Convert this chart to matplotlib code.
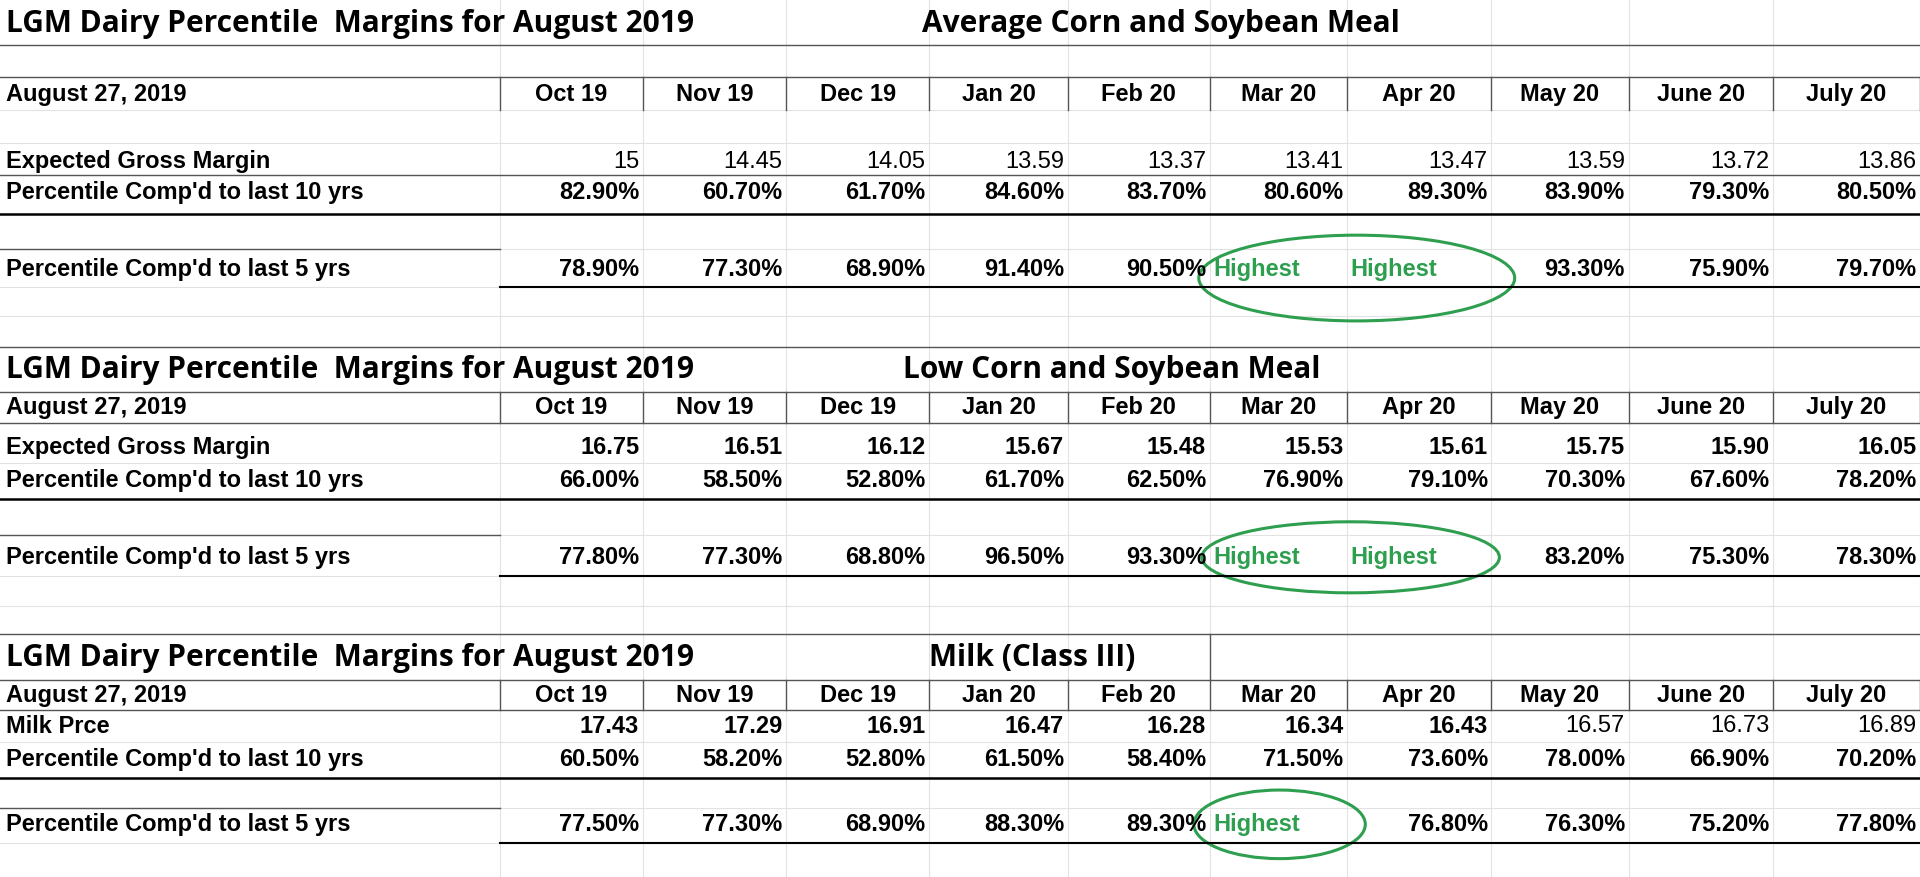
import matplotlib.pyplot as plt
from matplotlib.patches import Ellipse

months = ["Oct 19", "Nov 19", "Dec 19", "Jan 20", "Feb 20", "Mar 20", "Apr 20", "May 20", "June 20", "July 20"]
date_label = "August 27, 2019"
title = "LGM Dairy Percentile  Margins for August 2019"
subtitles = ["Average Corn and Soybean Meal", "Low Corn and Soybean Meal", "Milk (Class III)"]

avg_margin = ["15", "14.45", "14.05", "13.59", "13.37", "13.41", "13.47", "13.59", "13.72", "13.86"]
avg_pct10 = ["82.90%", "60.70%", "61.70%", "84.60%", "83.70%", "80.60%", "89.30%", "83.90%", "79.30%", "80.50%"]
avg_pct5 = ["78.90%", "77.30%", "68.90%", "91.40%", "90.50%", "Highest", "Highest", "93.30%", "75.90%", "79.70%"]

low_margin = ["16.75", "16.51", "16.12", "15.67", "15.48", "15.53", "15.61", "15.75", "15.90", "16.05"]
low_pct10 = ["66.00%", "58.50%", "52.80%", "61.70%", "62.50%", "76.90%", "79.10%", "70.30%", "67.60%", "78.20%"]
low_pct5 = ["77.80%", "77.30%", "68.80%", "96.50%", "93.30%", "Highest", "Highest", "83.20%", "75.30%", "78.30%"]

milk_price = ["17.43", "17.29", "16.91", "16.47", "16.28", "16.34", "16.43", "16.57", "16.73", "16.89"]
milk_pct10 = ["60.50%", "58.20%", "52.80%", "61.50%", "58.40%", "71.50%", "73.60%", "78.00%", "66.90%", "70.20%"]
milk_pct5 = ["77.50%", "77.30%", "68.90%", "88.30%", "89.30%", "Highest", "76.80%", "76.30%", "75.20%", "77.80%"]

# column edges in (scaled) sheet coordinates
edges = [0, 408, 525, 642, 759, 872, 988, 1100, 1218, 1330, 1448, 1568]
W, H = 1568, 716
GREEN = "#2e9e4f"
ARIAL = "Liberation Sans"
FS = 17
TFS = 21.5

fig = plt.figure(figsize=(19.2, 8.77), dpi=100)
ax = fig.add_axes([0, 0, 1, 1])
ax.set_xlim(0, W)
ax.set_ylim(H, 0)
ax.axis("off")

# faint spreadsheet grid
for x in edges[1:-1] + [1568]:
    ax.plot([x, x], [0, H], color="#e2e2e2", lw=0.8, zorder=0)
for y in [37, 63, 90, 117, 143, 175, 203, 234, 258, 283, 320, 345, 378, 407, 437, 470, 495, 518, 555, 580, 606, 635, 660, 688]:
    ax.plot([0, W], [y, y], color="#e2e2e2", lw=0.8, zorder=0)


def hline(y, x0=0, x1=W, lw=1.0, color="#555555"):
    ax.plot([x0, x1], [y, y], color=color, lw=lw, zorder=2)


def row(y, label, values, bold=True):
    ax.text(5, y, label, fontsize=FS, fontweight="bold", family=ARIAL, va="center", ha="left")
    for i, v in enumerate(values):
        if v == "Highest":
            ax.text(edges[i + 1] + 3, y, v, fontsize=FS, fontweight="bold",
                    family=ARIAL, va="center", ha="left", color=GREEN)
            continue
        b = bold[i] if isinstance(bold, list) else bold
        ax.text(edges[i + 2] - 3, y, v, fontsize=FS, fontweight="bold" if b else "normal",
                family=ARIAL, va="center", ha="right")


def header(y, y0, y1):
    ax.text(5, y, date_label, fontsize=FS, fontweight="bold", family=ARIAL, va="center")
    for i, m in enumerate(months):
        ax.text((edges[i + 1] + edges[i + 2]) / 2, y, m, fontsize=FS, fontweight="bold",
                family=ARIAL, va="center", ha="center")
    for x in edges[1:]:
        ax.plot([x, x], [y0, y1], color="#555555", lw=1.0, zorder=2)


def titles(y, sub, subx):
    ax.text(5, y, title, fontsize=TFS, fontweight="bold", family="Open Sans", va="center")
    ax.text(subx, y, sub, fontsize=TFS, fontweight="bold", family="Open Sans", va="center", ha="center")


# Section 1
titles(20, subtitles[0], 948)
hline(37)
hline(63)
header(77, 63, 90)
row(132, "Expected Gross Margin", avg_margin, bold=False)
hline(143)
row(157, "Percentile Comp'd to last 10 yrs", avg_pct10)
hline(175, lw=1.8, color="black")
hline(203, 0, 408)
row(220, "Percentile Comp'd to last 5 yrs", avg_pct5)
hline(234, 408, W, lw=1.5, color="black")
ax.add_patch(Ellipse((1108, 227), 258, 70, fill=False, ec=GREEN, lw=2.2))

# Section 2
hline(283)
titles(302, subtitles[1], 908)
hline(320)
header(333, 320, 345)
hline(345)
row(365, "Expected Gross Margin", low_margin)
row(392, "Percentile Comp'd to last 10 yrs", low_pct10)
hline(407, lw=1.8, color="black")
hline(437, 0, 408)
row(455, "Percentile Comp'd to last 5 yrs", low_pct5)
hline(470, 408, W, lw=1.5, color="black")
ax.add_patch(Ellipse((1103, 455), 243, 58, fill=False, ec=GREEN, lw=2.2))

# Section 3
hline(518)
titles(537, subtitles[2], 843)
ax.plot([988, 988], [518, 555], color="#555555", lw=1.0)
hline(555)
header(568, 555, 580)
hline(580)
row(593, "Milk Prce", milk_price, bold=[True] * 7 + [False] * 3)
row(620, "Percentile Comp'd to last 10 yrs", milk_pct10)
hline(635, lw=1.8, color="black")
hline(660, 0, 408)
row(673, "Percentile Comp'd to last 5 yrs", milk_pct5)
hline(688, 408, W, lw=1.5, color="black")
ax.add_patch(Ellipse((1045, 673), 140, 56, fill=False, ec=GREEN, lw=2.2))

fig.savefig("out.png", dpi=100, facecolor="white")
